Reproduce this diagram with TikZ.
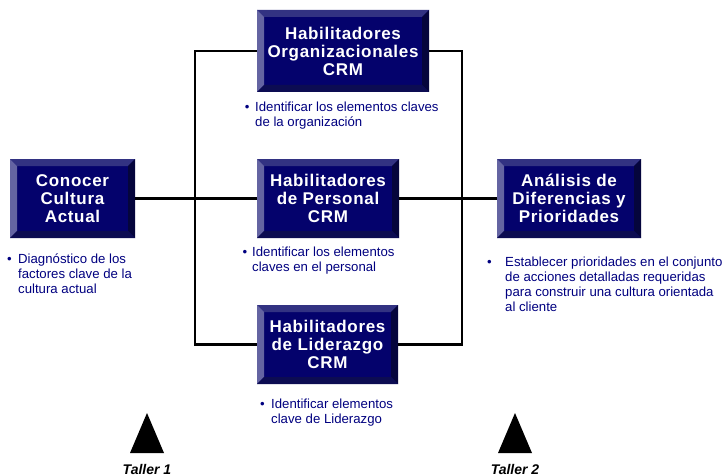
\documentclass[tikz,border=0pt]{standalone}
\usepackage{fontspec}
\setmainfont{Liberation Sans}
\usetikzlibrary{calc}
\definecolor{face}{RGB}{4,2,108}
\definecolor{bevT}{RGB}{50,50,130}
\definecolor{bevL}{RGB}{100,100,162}
\definecolor{bevR}{RGB}{5,5,60}
\definecolor{bevB}{RGB}{12,12,82}
\definecolor{txtnavy}{RGB}{0,0,128}
\begin{document}
\begin{tikzpicture}[x=1pt,y=-1pt,
  bevbox/.style={rectangle, fill=face, text=white, inner sep=0pt, align=center,
    font=\fontsize{17}{18}\selectfont\bfseries\addfontfeature{LetterSpace=4},
    path picture={
      \fill[bevT] (path picture bounding box.north west) -- (path picture bounding box.north east)
        -- ([xshift=-7pt,yshift=-7pt]path picture bounding box.north east)
        -- ([xshift=7pt,yshift=-7pt]path picture bounding box.north west) -- cycle;
      \fill[bevL] (path picture bounding box.north west)
        -- ([xshift=7pt,yshift=-7pt]path picture bounding box.north west)
        -- ([xshift=7pt,yshift=7pt]path picture bounding box.south west)
        -- (path picture bounding box.south west) -- cycle;
      \fill[bevR] (path picture bounding box.north east)
        -- ([xshift=-7pt,yshift=-7pt]path picture bounding box.north east)
        -- ([xshift=-7pt,yshift=7pt]path picture bounding box.south east)
        -- (path picture bounding box.south east) -- cycle;
      \fill[bevB] (path picture bounding box.south west)
        -- ([xshift=7pt,yshift=7pt]path picture bounding box.south west)
        -- ([xshift=-7pt,yshift=7pt]path picture bounding box.south east)
        -- (path picture bounding box.south east) -- cycle;
    }},
  bul/.style={text=txtnavy, font=\fontsize{13.2}{15}\selectfont, align=left,
    inner sep=0pt, anchor=north west},
  conn/.style={draw=black, line width=2.3pt},
  tl/.style={font=\fontsize{14}{16}\selectfont\bfseries\itshape, inner sep=0pt},
  tri/.style={fill=black}
]
\fill[white] (0,0) rectangle (725,476);
\useasboundingbox (0,0) rectangle (725,476);

% boxes
\node[bevbox, minimum width=172pt, minimum height=82pt] (org) at (343,51) {Habilitadores\\Organizacionales\\CRM};
\node[bevbox, minimum width=142pt, minimum height=79pt] (pers) at (328,198.5) {Habilitadores\\de Personal\\CRM};
\node[bevbox, minimum width=141pt, minimum height=79pt] (lid) at (327.5,344.5) {Habilitadores\\de Liderazgo\\CRM};
\node[bevbox, minimum width=125pt, minimum height=79pt] (cult) at (72.5,198.5) {Conocer\\Cultura\\Actual};
\node[bevbox, minimum width=144pt, minimum height=79pt] (anal) at (569,198.5) {Análisis de\\Diferencias y\\Prioridades};

% junction coordinates
\coordinate (lt) at (195,51);
\coordinate (lb) at (195,344.5);
\coordinate (rt) at (462,51);
\coordinate (rb) at (462,344.5);

% connectors
\draw[conn] (org.west) -- (lt) -- (lb) -- (lid.west);
\draw[conn] (cult.east) -- (pers.west);
\draw[conn] (org.east) -- (rt) -- (rb) -- (lid.east);
\draw[conn] (pers.east) -- (anal.west);

% bullet texts
\node[bul] (torg) at (255,101.8) {\llap{•\hspace{5.7pt}}Identificar los elementos claves\\de la organización};
\node[bul] (tpers) at (252,246.8) {\llap{•\hspace{5pt}}Identificar los elementos\\claves en el personal};
\node[bul] (tlid) at (271,398.8) {\llap{•\hspace{6.5pt}}Identificar elementos\\clave de Liderazgo};
\node[bul] (tcult) at (18,253.5) {\llap{•\hspace{6.5pt}}Diagnóstico de los\\factores clave de la\\cultura actual};
\node[bul] (tanal) at (505,256.8) {\llap{•\hspace{13.5pt}}Establecer prioridades en el conjunto\\de acciones detalladas requeridas\\para construir una cultura orientada\\al cliente};

% triangles and labels
\fill[tri] (147,413) -- (164,453) -- (130,453) -- cycle;
\fill[tri] (515,413) -- (532,453) -- (498,453) -- cycle;
\node[tl] (t1) at (147,469) {Taller 1};
\node[tl] (t2) at (515,469) {Taller 2};
\end{tikzpicture}
\end{document}
